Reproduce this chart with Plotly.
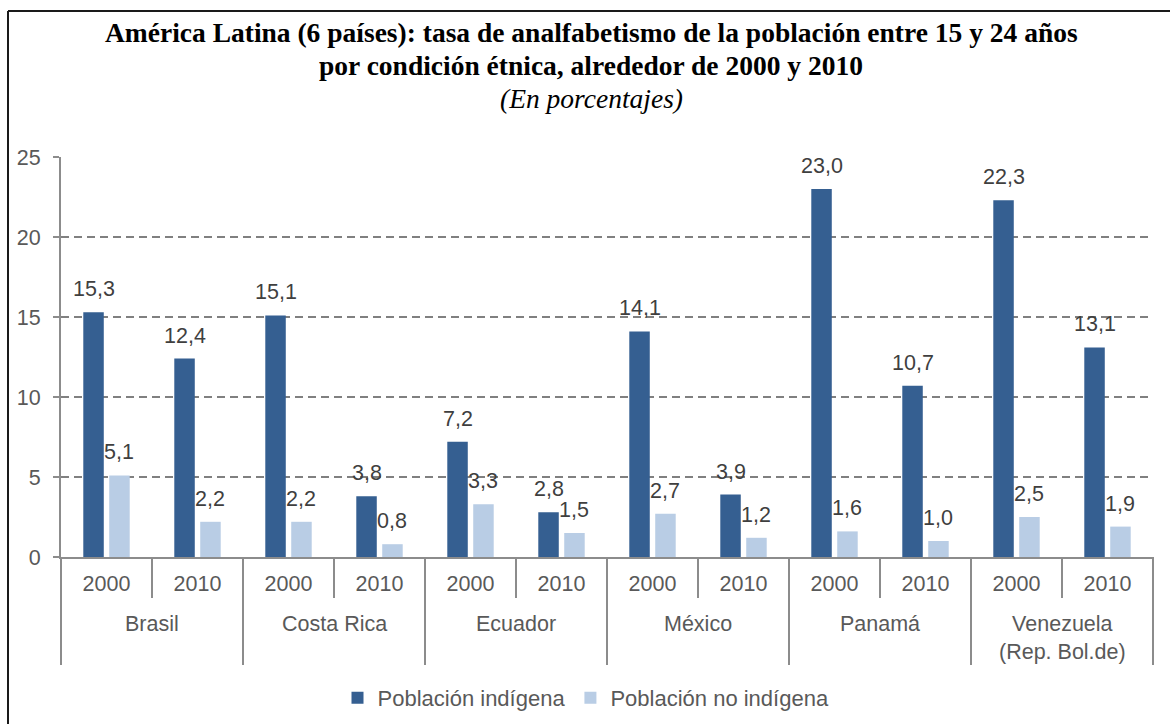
import plotly.graph_objects as go

# ---- data ----
countries = ["Brasil", "Costa Rica", "Ecuador", "México", "Panamá", "Venezuela<br>(Rep. Bol.de)"]
years = ["2000", "2010"]
indigena = [15.3, 12.4, 15.1, 3.8, 7.2, 2.8, 14.1, 3.9, 23.0, 10.7, 22.3, 13.1]
no_indigena = [5.1, 2.2, 2.2, 0.8, 3.3, 1.5, 2.7, 1.2, 1.6, 1.0, 2.5, 1.9]
y_ticks = [0, 5, 10, 15, 20, 25]
series_names = ["Población indígena", "Población no indígena"]
title_lines = [
    "<b>América Latina (6 países): tasa de analfabetismo de la población entre 15 y 24 años</b>",
    "<b>por condición étnica, alrededor de 2000 y 2010</b>",
    "<i>(En porcentajes)</i>",
]

n = len(indigena)
slots = [i + 0.5 for i in range(n)]
year_labels = [years[i % len(years)] for i in range(n)]

DARK = "#355F91"
LIGHT = "#B9CDE5"
GRID = "#808080"
AXIS = "#8C8C8C"
TXT = "#595959"
LBL = "#3F3F3F"
FONT = "Liberation Sans"
FS = 21.5

W, H = 1170, 724
ML, MR, MT, MB = 61, 17, 157, 167
PW, PH = W - ML - MR, H - MT - MB


def py(px):  # page pixel y -> paper y
    return (H - MB - px) / PH


def px_(x):  # page pixel x -> paper x
    return (x - ML) / PW


BARGAP = 0.43
off = (1 - BARGAP) / 4

fig = go.Figure()
fig.add_trace(go.Bar(x=slots, y=indigena, name=series_names[0], marker_color=DARK,
                     marker_line_width=0, hoverinfo="y"))
fig.add_trace(go.Bar(x=slots, y=no_indigena, name=series_names[1], marker_color=LIGHT,
                     marker_line_width=0, hoverinfo="y"))

annotations = []
for vals, sgn in ((indigena, -1), (no_indigena, 1)):
    for x, v in zip(slots, vals):
        annotations.append(dict(
            x=x + sgn * off, y=v, xref="x", yref="y",
            text=f"{v:.1f}".replace(".", ","), showarrow=False,
            yanchor="bottom", yshift=9,
            font=dict(family=FONT, size=FS, color=LBL)))

# country labels
for k, c in enumerate(countries):
    annotations.append(dict(
        x=2 * k + 1, y=py(610), xref="x", yref="paper", text=c, showarrow=False,
        yanchor="top", xanchor="center",
        font=dict(family=FONT, size=FS, color=TXT)))

# title lines
for t, yy in zip(title_lines, (33, 65, 98)):
    annotations.append(dict(
        x=px_(591), y=py(yy), xref="paper", yref="paper", text=t, showarrow=False,
        xanchor="center", yanchor="middle",
        font=dict(family="Liberation Serif", size=27.5, color="black")))

shapes = []
# group dividers
for k in range(len(countries) + 1):
    shapes.append(dict(type="line", xref="paper", yref="paper",
                       x0=(2 * k) / n, x1=(2 * k) / n, y0=0, y1=py(665),
                       line=dict(color=AXIS, width=2)))
# year separators
for k in range(len(countries)):
    xx = (2 * k + 1) / n
    shapes.append(dict(type="line", xref="paper", yref="paper",
                       x0=xx, x1=xx, y0=0, y1=py(598),
                       line=dict(color=AXIS, width=2)))
# outer frame (top and left)
shapes.append(dict(type="line", xref="paper", yref="paper",
                   x0=px_(8), x1=px_(1172), y0=py(11), y1=py(11),
                   line=dict(color="#1A1A1A", width=2)))
shapes.append(dict(type="line", xref="paper", yref="paper",
                   x0=px_(8), x1=px_(8), y0=py(11), y1=py(730),
                   line=dict(color="#1A1A1A", width=2)))

fig.update_layout(
    width=W, height=H,
    margin=dict(l=ML, r=MR, t=MT, b=MB, pad=0, autoexpand=False),
    paper_bgcolor="white", plot_bgcolor="white",
    barmode="group", bargap=BARGAP, bargroupgap=0.21,
    xaxis=dict(range=[0, n], tickvals=slots, ticktext=year_labels,
               showgrid=False, zeroline=False, showline=True, linecolor=AXIS, linewidth=2,
               ticks="", ticklabelstandoff=6,
               tickfont=dict(family=FONT, size=FS, color=TXT), fixedrange=True),
    yaxis=dict(range=[0, 25], tickvals=y_ticks, showgrid=True, gridcolor=GRID, gridwidth=1.5,
               griddash="8px,5px", zeroline=False, showline=True, linecolor=AXIS, linewidth=2,
               ticks="outside", ticklen=6, tickcolor=AXIS, tickwidth=2, ticklabelstandoff=8,
               tickfont=dict(family=FONT, size=FS, color=TXT), fixedrange=True),
    legend=dict(orientation="h", x=px_(586), xanchor="center", y=py(698), yanchor="middle",
                font=dict(family=FONT, size=22, color=TXT), itemwidth=30,
                bgcolor="rgba(0,0,0,0)"),
    showlegend=True,
    annotations=annotations,
    shapes=shapes,
)

fig.write_html("out.html", config={"displayModeBar": False},
               post_script="document.body.style.margin='0';")
